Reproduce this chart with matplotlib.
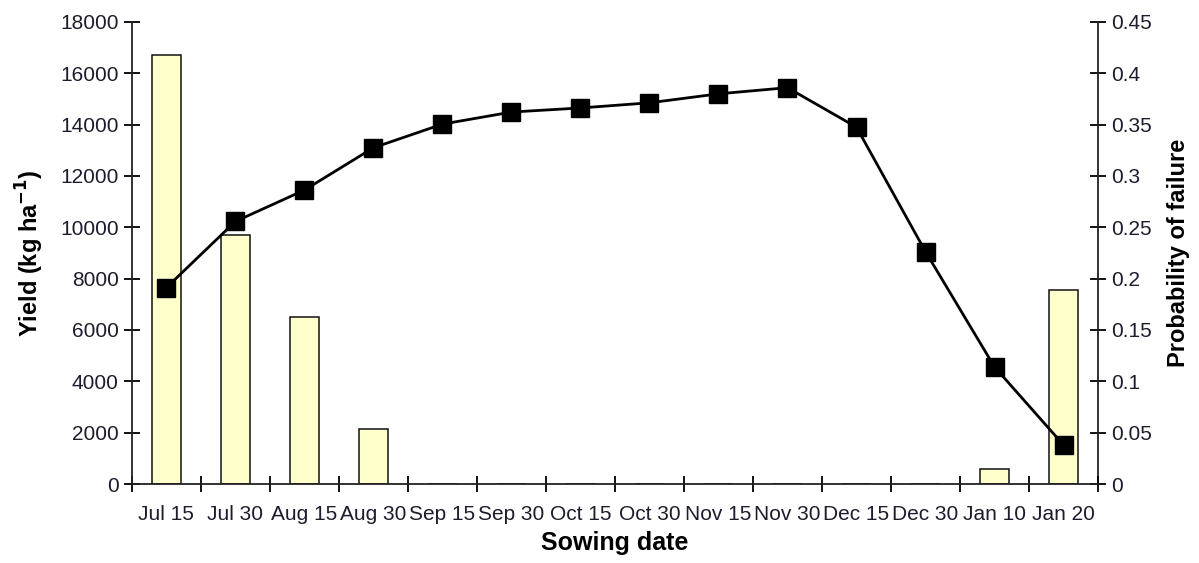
import numpy as np
import matplotlib.pyplot as plt

plt.rcParams["font.family"] = ["Liberation Sans", "DejaVu Sans"]

sowing_dates = ["Jul 15", "Jul 30", "Aug 15", "Aug 30", "Sep 15", "Sep 30",
                "Oct 15", "Oct 30", "Nov 15", "Nov 30", "Dec 15", "Dec 30",
                "Jan 10", "Jan 20"]
yield_kg_ha = [7650, 10230, 11450, 13100, 14020, 14490, 14650, 14850,
               15200, 15440, 13900, 9050, 4560, 1520]
prob_failure = [0.418, 0.243, 0.163, 0.054, 0, 0, 0, 0, 0, 0, 0, 0,
                0.0145, 0.189]

TEXT_C = "#1c1c2c"

fig = plt.figure(figsize=(11.99, 5.63), dpi=100)
ax = fig.add_axes([0.110, 0.1403, 0.8058, 0.8207])
ax2 = ax.twinx()

x = np.arange(len(sowing_dates))

# bars on the right axis, drawn behind the yield line
ax2.bar(x, prob_failure, width=0.42, color="#FFFFCC", edgecolor="#111111",
        linewidth=1.1, zorder=1)
ax2.set_ylim(0, 0.45)
ax2.set_yticks(np.arange(0, 0.451, 0.05))
ax2.set_yticklabels(["0", "0.05", "0.1", "0.15", "0.2", "0.25", "0.3",
                     "0.35", "0.4", "0.45"])
ax2.set_ylabel("Probability of failure", fontsize=17, fontweight="bold",
               labelpad=11)

ax.set_zorder(ax2.get_zorder() + 1)
ax.patch.set_visible(False)
ax.plot(x, yield_kg_ha, color="black", lw=2.0, marker="s", markersize=12.5,
        zorder=3)
ax.set_ylim(0, 18000)
ax.set_yticks(np.arange(0, 18001, 2000))
ax.set_ylabel(r"Yield (kg ha$^{\mathbf{-1}}$)", fontsize=17,
              fontweight="bold", labelpad=10)

ax.set_xlim(-0.5, len(sowing_dates) - 0.5)
ax.set_xticks(np.arange(-0.5, len(sowing_dates), 1.0))
ax.set_xticklabels([])
ax.set_xticks(x, minor=True)
ax.set_xticklabels(sowing_dates, minor=True)
ax.tick_params(axis="x", which="minor", length=0, pad=15, labelsize=15,
               labelcolor=TEXT_C)
ax.tick_params(axis="x", which="major", direction="inout", length=12,
               width=1.3)
ax.set_xlabel("Sowing date", fontsize=18, fontweight="bold", labelpad=5)

ax.tick_params(axis="y", direction="inout", length=12, width=1.3,
               labelsize=15, labelcolor=TEXT_C)
ax2.tick_params(axis="y", direction="inout", length=12, width=1.3,
                labelsize=15, labelcolor=TEXT_C)

for a in (ax, ax2):
    a.spines["top"].set_visible(False)
    for s in a.spines.values():
        s.set_linewidth(1.3)
        s.set_color("#222222")
ax.spines["right"].set_visible(False)
ax2.spines["left"].set_visible(False)
ax2.spines["bottom"].set_visible(False)

fig.savefig("out.png", dpi=100)
